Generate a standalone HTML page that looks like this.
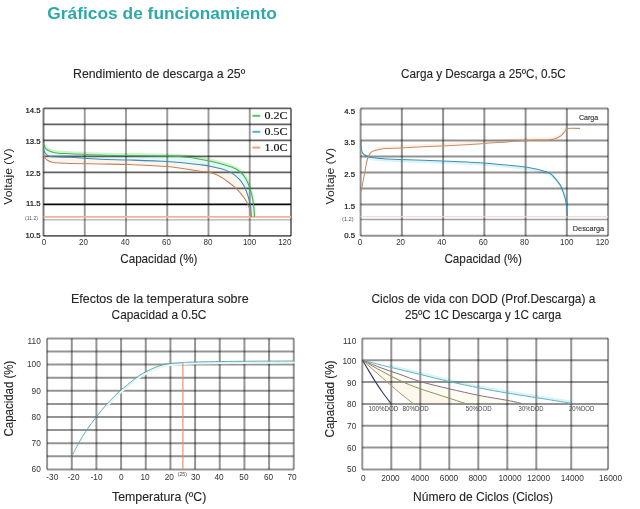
<!DOCTYPE html>
<html><head><meta charset="utf-8"><title>Gráficos de funcionamiento</title>
<style>
html,body{margin:0;padding:0;background:#fff;}
body{width:640px;height:509px;overflow:hidden;}
svg{display:block;}
</style></head><body>
<svg width="640" height="509" viewBox="0 0 640 509"><text x="47.30" y="18.60" font-size="16.00" fill="#2ea9ab" font-family='"Liberation Sans", Arial, sans-serif' textLength="229.50" lengthAdjust="spacingAndGlyphs" font-weight="bold">Gráficos de funcionamiento</text>
<g id="c1curvesbg">
<path d="M43.60,143.50 C43.83,144.17 44.43,146.45 45.00,147.50 C45.57,148.55 45.83,149.05 47.00,149.80 C48.17,150.55 50.17,151.43 52.00,152.00 C53.83,152.57 55.00,152.90 58.00,153.20 C61.00,153.50 63.00,153.50 70.00,153.80 C77.00,154.10 90.00,154.70 100.00,155.00 C110.00,155.30 118.75,155.42 130.00,155.60 C141.25,155.78 157.50,155.77 167.50,156.10 C177.50,156.43 184.58,157.08 190.00,157.60 C195.42,158.12 196.37,158.53 200.00,159.20 C203.63,159.87 207.48,160.58 211.80,161.60 C216.12,162.62 221.97,164.10 225.90,165.30 C229.83,166.50 232.83,167.52 235.40,168.80 C237.97,170.08 239.53,171.32 241.30,173.00 C243.07,174.68 244.63,176.55 246.00,178.90 C247.37,181.25 248.52,184.35 249.50,187.10 C250.48,189.85 251.22,192.45 251.90,195.40 C252.58,198.35 253.17,201.28 253.60,204.80 C254.03,208.32 254.35,214.55 254.50,216.50 L251.30,216.50 C251.20,214.95 251.00,209.73 250.70,207.20 C250.40,204.67 250.08,203.57 249.50,201.30 C248.92,199.03 248.18,196.27 247.20,193.60 C246.22,190.93 244.98,187.75 243.60,185.30 C242.22,182.85 241.07,181.05 238.90,178.90 C236.73,176.75 233.55,174.08 230.60,172.40 C227.65,170.72 224.83,169.88 221.20,168.80 C217.57,167.72 212.33,166.58 208.80,165.90 C205.27,165.22 206.88,165.42 200.00,164.70 C193.12,163.98 179.17,162.38 167.50,161.60 C155.83,160.82 141.25,160.38 130.00,160.00 C118.75,159.62 110.00,159.75 100.00,159.30 C90.00,158.85 77.50,157.72 70.00,157.30 C62.50,156.88 58.58,157.02 55.00,156.80 C51.42,156.58 50.17,156.67 48.50,156.00 C46.83,155.33 45.82,153.88 45.00,152.80 C44.18,151.72 43.83,150.05 43.60,149.50 Z" fill="#e4f8fa" stroke="none"/>
<path d="M43.60,149.50 C43.83,150.05 44.18,151.72 45.00,152.80 C45.82,153.88 46.83,155.33 48.50,156.00 C50.17,156.67 51.42,156.58 55.00,156.80 C58.58,157.02 62.50,156.88 70.00,157.30 C77.50,157.72 90.00,158.85 100.00,159.30 C110.00,159.75 118.75,159.62 130.00,160.00 C141.25,160.38 155.83,160.82 167.50,161.60 C179.17,162.38 193.12,163.98 200.00,164.70 C206.88,165.42 205.27,165.22 208.80,165.90 C212.33,166.58 217.57,167.72 221.20,168.80 C224.83,169.88 227.65,170.72 230.60,172.40 C233.55,174.08 236.73,176.75 238.90,178.90 C241.07,181.05 242.22,182.85 243.60,185.30 C244.98,187.75 246.22,190.93 247.20,193.60 C248.18,196.27 248.92,199.03 249.50,201.30 C250.08,203.57 250.40,204.67 250.70,207.20 C251.00,209.73 251.20,214.95 251.30,216.50 L250.70,216.50 C250.60,215.53 250.50,212.55 250.10,210.70 C249.70,208.85 248.98,207.07 248.30,205.40 C247.62,203.73 247.17,202.57 246.00,200.70 C244.83,198.83 243.07,196.37 241.30,194.20 C239.53,192.03 237.77,189.87 235.40,187.70 C233.03,185.53 230.05,183.27 227.10,181.20 C224.15,179.13 220.75,176.78 217.70,175.30 C214.65,173.82 211.75,172.98 208.80,172.30 C205.85,171.62 206.88,172.15 200.00,171.20 C193.12,170.25 179.17,167.70 167.50,166.60 C155.83,165.50 141.25,165.03 130.00,164.60 C118.75,164.17 110.00,164.20 100.00,164.00 C90.00,163.80 76.67,163.55 70.00,163.40 C63.33,163.25 63.00,163.30 60.00,163.10 C57.00,162.90 54.17,162.72 52.00,162.20 C49.83,161.68 48.17,160.73 47.00,160.00 C45.83,159.27 45.57,158.63 45.00,157.80 C44.43,156.97 43.83,155.47 43.60,155.00 Z" fill="#fef5ee" stroke="none"/>
<path d="M43.60,142.00 C43.83,142.67 44.43,144.95 45.00,146.00 C45.57,147.05 45.83,147.55 47.00,148.30 C48.17,149.05 50.17,149.93 52.00,150.50 C53.83,151.07 55.00,151.40 58.00,151.70 C61.00,152.00 63.00,152.00 70.00,152.30 C77.00,152.60 90.00,153.20 100.00,153.50 C110.00,153.80 118.75,153.92 130.00,154.10 C141.25,154.28 157.50,154.27 167.50,154.60 C177.50,154.93 184.58,155.58 190.00,156.10 C195.42,156.62 196.37,157.03 200.00,157.70 C203.63,158.37 207.48,159.08 211.80,160.10 C216.12,161.12 221.97,162.60 225.90,163.80 C229.83,165.00 232.83,166.02 235.40,167.30 C237.97,168.58 239.53,169.82 241.30,171.50 C243.07,173.18 244.63,175.05 246.00,177.40 C247.37,179.75 248.52,182.85 249.50,185.60 C250.48,188.35 251.22,190.95 251.90,193.90 C252.58,196.85 253.17,199.78 253.60,203.30 C254.03,206.82 254.35,213.05 254.50,215.00" stroke="#cdf2cd" stroke-width="2.20" fill="none" stroke-linejoin="round" stroke-linecap="round" />
</g>
<g id="c1grid">
<line x1="43.50" y1="108.40" x2="291.00" y2="108.40" stroke="#000" stroke-width="1.80" stroke-opacity="0.62"/>
<line x1="43.50" y1="124.45" x2="291.00" y2="124.45" stroke="#000" stroke-width="1.80" stroke-opacity="0.62"/>
<line x1="43.50" y1="140.45" x2="291.00" y2="140.45" stroke="#000" stroke-width="1.80" stroke-opacity="0.62"/>
<line x1="43.50" y1="156.40" x2="291.00" y2="156.40" stroke="#000" stroke-width="1.80" stroke-opacity="0.62"/>
<line x1="43.50" y1="172.40" x2="291.00" y2="172.40" stroke="#000" stroke-width="1.80" stroke-opacity="0.62"/>
<line x1="43.50" y1="188.40" x2="291.00" y2="188.40" stroke="#000" stroke-width="1.80" stroke-opacity="0.62"/>
<line x1="43.50" y1="204.40" x2="291.00" y2="204.40" stroke="#080808" stroke-width="1.70"/>
<line x1="43.50" y1="219.90" x2="291.00" y2="219.90" stroke="#b0b0b0" stroke-width="1.40"/>
<line x1="43.50" y1="235.80" x2="291.00" y2="235.80" stroke="#000" stroke-width="1.80" stroke-opacity="0.62"/>
<line x1="43.50" y1="108.40" x2="43.50" y2="236.00" stroke="#000" stroke-width="1.90" stroke-opacity="0.55"/>
<line x1="84.75" y1="108.40" x2="84.75" y2="236.00" stroke="#000" stroke-width="1.90" stroke-opacity="0.40"/>
<line x1="126.00" y1="108.40" x2="126.00" y2="236.00" stroke="#000" stroke-width="1.90" stroke-opacity="0.40"/>
<line x1="167.25" y1="108.40" x2="167.25" y2="236.00" stroke="#000" stroke-width="1.90" stroke-opacity="0.40"/>
<line x1="208.50" y1="108.40" x2="208.50" y2="236.00" stroke="#000" stroke-width="1.90" stroke-opacity="0.40"/>
<line x1="249.75" y1="108.40" x2="249.75" y2="236.00" stroke="#000" stroke-width="1.90" stroke-opacity="0.40"/>
<line x1="291.00" y1="108.40" x2="291.00" y2="236.00" stroke="#000" stroke-width="1.90" stroke-opacity="0.55"/>
</g>
<line x1="43.50" y1="216.90" x2="291.00" y2="216.90" stroke="#eeb49c" stroke-width="1.60"/>
<path d="M43.60,143.50 C43.83,144.17 44.43,146.45 45.00,147.50 C45.57,148.55 45.83,149.05 47.00,149.80 C48.17,150.55 50.17,151.43 52.00,152.00 C53.83,152.57 55.00,152.90 58.00,153.20 C61.00,153.50 63.00,153.50 70.00,153.80 C77.00,154.10 90.00,154.70 100.00,155.00 C110.00,155.30 118.75,155.42 130.00,155.60 C141.25,155.78 157.50,155.77 167.50,156.10 C177.50,156.43 184.58,157.08 190.00,157.60 C195.42,158.12 196.37,158.53 200.00,159.20 C203.63,159.87 207.48,160.58 211.80,161.60 C216.12,162.62 221.97,164.10 225.90,165.30 C229.83,166.50 232.83,167.52 235.40,168.80 C237.97,170.08 239.53,171.32 241.30,173.00 C243.07,174.68 244.63,176.55 246.00,178.90 C247.37,181.25 248.52,184.35 249.50,187.10 C250.48,189.85 251.22,192.45 251.90,195.40 C252.58,198.35 253.17,201.28 253.60,204.80 C254.03,208.32 254.35,214.55 254.50,216.50" stroke="#45b34f" stroke-width="1.05" fill="none" stroke-linejoin="round" stroke-linecap="round" />
<path d="M43.60,149.50 C43.83,150.05 44.18,151.72 45.00,152.80 C45.82,153.88 46.83,155.33 48.50,156.00 C50.17,156.67 51.42,156.58 55.00,156.80 C58.58,157.02 62.50,156.88 70.00,157.30 C77.50,157.72 90.00,158.85 100.00,159.30 C110.00,159.75 118.75,159.62 130.00,160.00 C141.25,160.38 155.83,160.82 167.50,161.60 C179.17,162.38 193.12,163.98 200.00,164.70 C206.88,165.42 205.27,165.22 208.80,165.90 C212.33,166.58 217.57,167.72 221.20,168.80 C224.83,169.88 227.65,170.72 230.60,172.40 C233.55,174.08 236.73,176.75 238.90,178.90 C241.07,181.05 242.22,182.85 243.60,185.30 C244.98,187.75 246.22,190.93 247.20,193.60 C248.18,196.27 248.92,199.03 249.50,201.30 C250.08,203.57 250.40,204.67 250.70,207.20 C251.00,209.73 251.20,214.95 251.30,216.50" stroke="#3a8cb0" stroke-width="1.05" fill="none" stroke-linejoin="round" stroke-linecap="round" />
<path d="M43.60,155.00 C43.83,155.47 44.43,156.97 45.00,157.80 C45.57,158.63 45.83,159.27 47.00,160.00 C48.17,160.73 49.83,161.68 52.00,162.20 C54.17,162.72 57.00,162.90 60.00,163.10 C63.00,163.30 63.33,163.25 70.00,163.40 C76.67,163.55 90.00,163.80 100.00,164.00 C110.00,164.20 118.75,164.17 130.00,164.60 C141.25,165.03 155.83,165.50 167.50,166.60 C179.17,167.70 193.12,170.25 200.00,171.20 C206.88,172.15 205.85,171.62 208.80,172.30 C211.75,172.98 214.65,173.82 217.70,175.30 C220.75,176.78 224.15,179.13 227.10,181.20 C230.05,183.27 233.03,185.53 235.40,187.70 C237.77,189.87 239.53,192.03 241.30,194.20 C243.07,196.37 244.83,198.83 246.00,200.70 C247.17,202.57 247.62,203.73 248.30,205.40 C248.98,207.07 249.70,208.85 250.10,210.70 C250.50,212.55 250.60,215.53 250.70,216.50" stroke="#c0825c" stroke-width="1.05" fill="none" stroke-linejoin="round" stroke-linecap="round" />
<line x1="252.40" y1="115.80" x2="260.30" y2="115.80" stroke="#57c860" stroke-width="2.00"/>
<line x1="252.40" y1="131.80" x2="260.30" y2="131.80" stroke="#52b6d0" stroke-width="2.00"/>
<line x1="252.40" y1="147.60" x2="260.30" y2="147.60" stroke="#f0a078" stroke-width="2.00"/>
<text x="264.60" y="119.20" font-size="9.50" fill="#111" font-family='"Liberation Serif", "Times New Roman", serif' stroke="#111" stroke-width="0.12" textLength="23.00" lengthAdjust="spacingAndGlyphs">0.2C</text>
<text x="264.60" y="135.20" font-size="9.50" fill="#111" font-family='"Liberation Serif", "Times New Roman", serif' stroke="#111" stroke-width="0.12" textLength="23.00" lengthAdjust="spacingAndGlyphs">0.5C</text>
<text x="264.60" y="151.10" font-size="9.50" fill="#111" font-family='"Liberation Serif", "Times New Roman", serif' stroke="#111" stroke-width="0.12" textLength="23.00" lengthAdjust="spacingAndGlyphs">1.0C</text>
<text x="40.60" y="113.30" font-size="7.80" fill="#111" font-family='"Liberation Sans", Arial, sans-serif' stroke="#111" stroke-width="0.20" text-anchor="end">14.5</text>
<text x="40.60" y="143.90" font-size="7.80" fill="#111" font-family='"Liberation Sans", Arial, sans-serif' stroke="#111" stroke-width="0.20" text-anchor="end">13.5</text>
<text x="40.60" y="175.70" font-size="7.80" fill="#111" font-family='"Liberation Sans", Arial, sans-serif' stroke="#111" stroke-width="0.20" text-anchor="end">12.5</text>
<text x="40.60" y="206.10" font-size="7.80" fill="#111" font-family='"Liberation Sans", Arial, sans-serif' stroke="#111" stroke-width="0.20" text-anchor="end">11.5</text>
<text x="40.60" y="237.70" font-size="7.80" fill="#111" font-family='"Liberation Sans", Arial, sans-serif' stroke="#111" stroke-width="0.20" text-anchor="end">10.5</text>
<text x="25.00" y="220.40" font-size="5.80" fill="#555" font-family='"Liberation Sans", Arial, sans-serif' textLength="12.90" lengthAdjust="spacingAndGlyphs">(11.2)</text>
<text x="43.90" y="245.00" font-size="8.60" fill="#333" font-family='"Liberation Sans", Arial, sans-serif' textLength="4.45" lengthAdjust="spacingAndGlyphs" text-anchor="middle">0</text>
<text x="83.40" y="245.00" font-size="8.60" fill="#333" font-family='"Liberation Sans", Arial, sans-serif' textLength="8.90" lengthAdjust="spacingAndGlyphs" text-anchor="middle">20</text>
<text x="125.20" y="245.00" font-size="8.60" fill="#333" font-family='"Liberation Sans", Arial, sans-serif' textLength="8.90" lengthAdjust="spacingAndGlyphs" text-anchor="middle">40</text>
<text x="166.50" y="245.00" font-size="8.60" fill="#333" font-family='"Liberation Sans", Arial, sans-serif' textLength="8.90" lengthAdjust="spacingAndGlyphs" text-anchor="middle">60</text>
<text x="208.00" y="245.00" font-size="8.60" fill="#333" font-family='"Liberation Sans", Arial, sans-serif' textLength="8.90" lengthAdjust="spacingAndGlyphs" text-anchor="middle">80</text>
<text x="249.60" y="245.00" font-size="8.60" fill="#333" font-family='"Liberation Sans", Arial, sans-serif' textLength="13.35" lengthAdjust="spacingAndGlyphs" text-anchor="middle">100</text>
<text x="284.80" y="245.00" font-size="8.60" fill="#333" font-family='"Liberation Sans", Arial, sans-serif' textLength="13.35" lengthAdjust="spacingAndGlyphs" text-anchor="middle">120</text>
<text x="120.20" y="263.30" font-size="12.80" fill="#262626" font-family='"Liberation Sans", Arial, sans-serif' stroke="#262626" stroke-width="0.12" textLength="77.30" lengthAdjust="spacingAndGlyphs">Capacidad (%)</text>
<text x="0" y="0" transform="translate(12.40,204.80) rotate(-90)" font-size="11.40" fill="#222" font-family='"Liberation Sans", Arial, sans-serif' textLength="56.50" lengthAdjust="spacingAndGlyphs">Voltaje (V)</text>
<text x="73.00" y="78.00" font-size="12.80" fill="#262626" font-family='"Liberation Sans", Arial, sans-serif' stroke="#262626" stroke-width="0.12" textLength="172.20" lengthAdjust="spacingAndGlyphs">Rendimiento de descarga a 25º</text>
<g id="c2bg">
<path d="M365.10,156.30 C365.72,156.60 367.52,157.62 368.80,158.10 C370.08,158.58 370.80,158.88 372.80,159.20 C374.80,159.52 378.47,159.78 380.80,160.00 C383.13,160.22 383.47,160.30 386.80,160.50 C390.13,160.70 391.30,160.87 400.80,161.20 C410.30,161.53 432.13,162.07 443.80,162.50 C455.47,162.93 462.97,163.37 470.80,163.80 C478.63,164.23 485.80,164.72 490.80,165.10 C495.80,165.48 494.80,165.52 500.80,166.10 C506.80,166.68 519.02,167.35 526.80,168.60 C534.58,169.85 543.00,172.10 547.50,173.60 C552.00,175.10 551.92,175.95 553.80,177.60 C555.68,179.25 557.47,181.75 558.80,183.50 C560.13,185.25 560.93,186.38 561.80,188.10 C562.67,189.82 563.28,191.72 564.00,193.80 C564.72,195.88 565.52,198.20 566.10,200.60 C566.68,203.00 567.27,206.93 567.50,208.20" stroke="#d8f4f8" stroke-width="2.40" fill="none" stroke-linejoin="round" stroke-linecap="round" />
<path d="M376.00,148.70 C376.67,148.55 378.33,148.07 380.00,147.80 C381.67,147.53 382.67,147.33 386.00,147.10 C389.33,146.87 390.50,146.85 400.00,146.40 C409.50,145.95 431.33,144.98 443.00,144.40 C454.67,143.82 463.07,143.30 470.00,142.90 C476.93,142.50 475.32,142.63 484.60,142.00 C493.88,141.37 514.80,139.73 525.70,139.10 C536.60,138.47 545.12,138.52 550.00,138.20 C554.88,137.88 553.50,137.65 555.00,137.20 C556.50,136.75 557.83,136.15 559.00,135.50 C560.17,134.85 561.08,134.17 562.00,133.30 C562.92,132.43 563.80,131.22 564.50,130.30 C565.20,129.38 565.92,128.22 566.20,127.80" stroke="#fdf0e4" stroke-width="2.40" fill="none" stroke-linejoin="round" stroke-linecap="round" />
</g>
<line x1="360.60" y1="108.40" x2="608.10" y2="108.40" stroke="#000" stroke-width="2.00" stroke-opacity="0.43"/>
<line x1="360.60" y1="124.45" x2="608.10" y2="124.45" stroke="#000" stroke-width="2.00" stroke-opacity="0.43"/>
<line x1="360.60" y1="140.45" x2="608.10" y2="140.45" stroke="#000" stroke-width="2.00" stroke-opacity="0.43"/>
<line x1="360.60" y1="156.40" x2="608.10" y2="156.40" stroke="#000" stroke-width="2.00" stroke-opacity="0.43"/>
<line x1="360.60" y1="172.40" x2="608.10" y2="172.40" stroke="#000" stroke-width="2.00" stroke-opacity="0.43"/>
<line x1="360.60" y1="188.40" x2="608.10" y2="188.40" stroke="#000" stroke-width="2.00" stroke-opacity="0.43"/>
<line x1="360.60" y1="204.40" x2="608.10" y2="204.40" stroke="#000" stroke-width="2.00" stroke-opacity="0.43"/>
<line x1="360.60" y1="219.50" x2="608.10" y2="219.50" stroke="#a0a0a0" stroke-width="1.50"/>
<line x1="360.60" y1="235.80" x2="608.10" y2="235.80" stroke="#000" stroke-width="2.00" stroke-opacity="0.43"/>
<line x1="360.60" y1="108.40" x2="360.60" y2="236.00" stroke="#000" stroke-width="2.00" stroke-opacity="0.43"/>
<line x1="401.85" y1="108.40" x2="401.85" y2="236.00" stroke="#000" stroke-width="2.00" stroke-opacity="0.43"/>
<line x1="443.10" y1="108.40" x2="443.10" y2="236.00" stroke="#000" stroke-width="2.00" stroke-opacity="0.43"/>
<line x1="484.35" y1="108.40" x2="484.35" y2="236.00" stroke="#000" stroke-width="2.00" stroke-opacity="0.43"/>
<line x1="525.60" y1="108.40" x2="525.60" y2="236.00" stroke="#000" stroke-width="2.00" stroke-opacity="0.43"/>
<line x1="566.85" y1="108.40" x2="566.85" y2="236.00" stroke="#000" stroke-width="2.00" stroke-opacity="0.43"/>
<line x1="608.10" y1="108.40" x2="608.10" y2="236.00" stroke="#000" stroke-width="2.00" stroke-opacity="0.43"/>
<line x1="360.60" y1="216.70" x2="608.10" y2="216.70" stroke="#f3d3d0" stroke-width="1.00"/>
<path d="M360.90,141.50 C360.97,142.58 361.08,146.20 361.30,148.00 C361.52,149.80 361.70,151.18 362.20,152.30 C362.70,153.42 363.33,154.00 364.30,154.70 C365.27,155.40 366.72,156.02 368.00,156.50 C369.28,156.98 370.00,157.28 372.00,157.60 C374.00,157.92 377.67,158.18 380.00,158.40 C382.33,158.62 382.67,158.70 386.00,158.90 C389.33,159.10 390.50,159.27 400.00,159.60 C409.50,159.93 431.33,160.47 443.00,160.90 C454.67,161.33 462.17,161.77 470.00,162.20 C477.83,162.63 485.00,163.12 490.00,163.50 C495.00,163.88 494.00,163.92 500.00,164.50 C506.00,165.08 518.22,165.75 526.00,167.00 C533.78,168.25 542.20,170.50 546.70,172.00 C551.20,173.50 551.12,174.35 553.00,176.00 C554.88,177.65 556.67,180.15 558.00,181.90 C559.33,183.65 560.13,184.78 561.00,186.50 C561.87,188.22 562.48,190.12 563.20,192.20 C563.92,194.28 564.72,196.60 565.30,199.00 C565.88,201.40 566.35,203.72 566.70,206.60 C567.05,209.48 567.28,214.68 567.40,216.30" stroke="#3a90b4" stroke-width="1.05" fill="none" stroke-linejoin="round" stroke-linecap="round" />
<path d="M360.70,191.50 C360.87,190.97 361.28,190.13 361.70,188.30 C362.12,186.47 362.68,183.17 363.20,180.50 C363.72,177.83 364.28,175.05 364.80,172.30 C365.32,169.55 365.85,166.22 366.30,164.00 C366.75,161.78 367.12,160.30 367.50,159.00 C367.88,157.70 368.18,157.10 368.60,156.20 C369.02,155.30 369.43,154.37 370.00,153.60 C370.57,152.83 371.00,152.17 372.00,151.60 C373.00,151.03 374.67,150.58 376.00,150.20 C377.33,149.82 378.33,149.57 380.00,149.30 C381.67,149.03 382.67,148.83 386.00,148.60 C389.33,148.37 390.50,148.35 400.00,147.90 C409.50,147.45 431.33,146.48 443.00,145.90 C454.67,145.32 463.07,144.80 470.00,144.40 C476.93,144.00 475.32,144.13 484.60,143.50 C493.88,142.87 514.80,141.23 525.70,140.60 C536.60,139.97 545.12,140.02 550.00,139.70 C554.88,139.38 553.50,139.15 555.00,138.70 C556.50,138.25 557.83,137.65 559.00,137.00 C560.17,136.35 561.08,135.67 562.00,134.80 C562.92,133.93 563.80,132.72 564.50,131.80 C565.20,130.88 565.70,129.87 566.20,129.30 C566.70,128.73 565.28,128.55 567.50,128.40 C569.72,128.25 577.50,128.40 579.50,128.40" stroke="#c58c66" stroke-width="1.05" fill="none" stroke-linejoin="round" stroke-linecap="round" />
<text x="355.00" y="114.20" font-size="7.80" fill="#111" font-family='"Liberation Sans", Arial, sans-serif' stroke="#111" stroke-width="0.20" text-anchor="end">4.5</text>
<text x="355.00" y="144.50" font-size="7.80" fill="#111" font-family='"Liberation Sans", Arial, sans-serif' stroke="#111" stroke-width="0.20" text-anchor="end">3.5</text>
<text x="355.00" y="176.95" font-size="7.80" fill="#111" font-family='"Liberation Sans", Arial, sans-serif' stroke="#111" stroke-width="0.20" text-anchor="end">2.5</text>
<text x="355.00" y="209.20" font-size="7.80" fill="#111" font-family='"Liberation Sans", Arial, sans-serif' stroke="#111" stroke-width="0.20" text-anchor="end">1.5</text>
<text x="355.00" y="237.90" font-size="7.80" fill="#111" font-family='"Liberation Sans", Arial, sans-serif' stroke="#111" stroke-width="0.20" text-anchor="end">0.5</text>
<text x="342.10" y="220.60" font-size="5.80" fill="#555" font-family='"Liberation Sans", Arial, sans-serif' textLength="11.50" lengthAdjust="spacingAndGlyphs">(1.2)</text>
<text x="359.90" y="245.00" font-size="8.60" fill="#333" font-family='"Liberation Sans", Arial, sans-serif' textLength="4.45" lengthAdjust="spacingAndGlyphs" text-anchor="middle">0</text>
<text x="400.60" y="245.00" font-size="8.60" fill="#333" font-family='"Liberation Sans", Arial, sans-serif' textLength="8.90" lengthAdjust="spacingAndGlyphs" text-anchor="middle">20</text>
<text x="441.80" y="245.00" font-size="8.60" fill="#333" font-family='"Liberation Sans", Arial, sans-serif' textLength="8.90" lengthAdjust="spacingAndGlyphs" text-anchor="middle">40</text>
<text x="483.20" y="245.00" font-size="8.60" fill="#333" font-family='"Liberation Sans", Arial, sans-serif' textLength="8.90" lengthAdjust="spacingAndGlyphs" text-anchor="middle">60</text>
<text x="524.50" y="245.00" font-size="8.60" fill="#333" font-family='"Liberation Sans", Arial, sans-serif' textLength="8.90" lengthAdjust="spacingAndGlyphs" text-anchor="middle">80</text>
<text x="566.75" y="245.00" font-size="8.60" fill="#333" font-family='"Liberation Sans", Arial, sans-serif' textLength="13.35" lengthAdjust="spacingAndGlyphs" text-anchor="middle">100</text>
<text x="602.30" y="245.00" font-size="8.60" fill="#333" font-family='"Liberation Sans", Arial, sans-serif' textLength="13.35" lengthAdjust="spacingAndGlyphs" text-anchor="middle">120</text>
<text x="444.40" y="263.30" font-size="12.80" fill="#262626" font-family='"Liberation Sans", Arial, sans-serif' stroke="#262626" stroke-width="0.12" textLength="77.50" lengthAdjust="spacingAndGlyphs">Capacidad (%)</text>
<text x="0" y="0" transform="translate(333.60,204.50) rotate(-90)" font-size="11.40" fill="#222" font-family='"Liberation Sans", Arial, sans-serif' textLength="56.60" lengthAdjust="spacingAndGlyphs">Voltaje (V)</text>
<text x="401.00" y="77.80" font-size="12.80" fill="#262626" font-family='"Liberation Sans", Arial, sans-serif' stroke="#262626" stroke-width="0.12" textLength="164.80" lengthAdjust="spacingAndGlyphs">Carga y Descarga a 25ºC, 0.5C</text>
<text x="578.90" y="119.90" font-size="7.80" fill="#333" font-family='"Liberation Sans", Arial, sans-serif' stroke="#333" stroke-width="0.15" textLength="19.30" lengthAdjust="spacingAndGlyphs">Carga</text>
<text x="572.80" y="230.70" font-size="7.80" fill="#333" font-family='"Liberation Sans", Arial, sans-serif' stroke="#333" stroke-width="0.15" textLength="31.30" lengthAdjust="spacingAndGlyphs">Descarga</text>
<line x1="47.10" y1="338.40" x2="293.75" y2="338.40" stroke="#000" stroke-width="2.00" stroke-opacity="0.42"/>
<line x1="47.10" y1="351.50" x2="293.75" y2="351.50" stroke="#000" stroke-width="2.00" stroke-opacity="0.42"/>
<line x1="47.10" y1="364.60" x2="293.75" y2="364.60" stroke="#000" stroke-width="2.00" stroke-opacity="0.42"/>
<line x1="47.10" y1="377.70" x2="293.75" y2="377.70" stroke="#000" stroke-width="2.00" stroke-opacity="0.42"/>
<line x1="47.10" y1="390.80" x2="293.75" y2="390.80" stroke="#000" stroke-width="2.00" stroke-opacity="0.42"/>
<line x1="47.10" y1="403.90" x2="293.75" y2="403.90" stroke="#000" stroke-width="2.00" stroke-opacity="0.42"/>
<line x1="47.10" y1="417.00" x2="293.75" y2="417.00" stroke="#000" stroke-width="2.00" stroke-opacity="0.42"/>
<line x1="47.10" y1="430.10" x2="293.75" y2="430.10" stroke="#000" stroke-width="2.00" stroke-opacity="0.42"/>
<line x1="47.10" y1="443.20" x2="293.75" y2="443.20" stroke="#000" stroke-width="2.00" stroke-opacity="0.42"/>
<line x1="47.10" y1="456.30" x2="293.75" y2="456.30" stroke="#000" stroke-width="2.00" stroke-opacity="0.42"/>
<line x1="47.10" y1="469.40" x2="293.75" y2="469.40" stroke="#000" stroke-width="2.00" stroke-opacity="0.42"/>
<line x1="47.10" y1="338.40" x2="47.10" y2="469.40" stroke="#000" stroke-width="2.00" stroke-opacity="0.42"/>
<line x1="71.77" y1="338.40" x2="71.77" y2="469.40" stroke="#000" stroke-width="2.00" stroke-opacity="0.42"/>
<line x1="96.43" y1="338.40" x2="96.43" y2="469.40" stroke="#000" stroke-width="2.00" stroke-opacity="0.42"/>
<line x1="121.09" y1="338.40" x2="121.09" y2="469.40" stroke="#000" stroke-width="2.00" stroke-opacity="0.42"/>
<line x1="145.76" y1="338.40" x2="145.76" y2="469.40" stroke="#000" stroke-width="2.00" stroke-opacity="0.42"/>
<line x1="170.42" y1="338.40" x2="170.42" y2="469.40" stroke="#000" stroke-width="2.00" stroke-opacity="0.42"/>
<line x1="195.09" y1="338.40" x2="195.09" y2="469.40" stroke="#000" stroke-width="2.00" stroke-opacity="0.42"/>
<line x1="219.75" y1="338.40" x2="219.75" y2="469.40" stroke="#000" stroke-width="2.00" stroke-opacity="0.42"/>
<line x1="244.42" y1="338.40" x2="244.42" y2="469.40" stroke="#000" stroke-width="2.00" stroke-opacity="0.42"/>
<line x1="269.08" y1="338.40" x2="269.08" y2="469.40" stroke="#000" stroke-width="2.00" stroke-opacity="0.42"/>
<line x1="293.75" y1="338.40" x2="293.75" y2="469.40" stroke="#000" stroke-width="2.00" stroke-opacity="0.42"/>
<path d="M107.80,405.20 C110.03,402.97 118.25,394.58 121.20,391.80 C124.15,389.02 122.92,390.60 125.50,388.50 C128.08,386.40 133.27,381.70 136.70,379.20 C140.13,376.70 142.97,375.18 146.10,373.50 C149.23,371.82 152.60,370.30 155.50,369.10 C158.40,367.90 160.92,366.98 163.50,366.30 C166.08,365.62 167.83,365.35 171.00,365.00 C174.17,364.65 178.35,364.43 182.50,364.20 C186.65,363.97 186.23,363.82 195.90,363.60 C205.57,363.38 224.15,363.07 240.50,362.90 C256.85,362.73 285.08,362.65 294.00,362.60" stroke="#e4f5f6" stroke-width="2.00" fill="none" stroke-linejoin="round" stroke-linecap="round" />
<path d="M71.80,456.40 C72.96,454.15 76.23,447.34 78.75,442.90 C81.27,438.46 83.98,434.08 86.90,429.75 C89.83,425.42 92.90,421.26 96.30,416.90 C99.70,412.54 103.23,408.05 107.30,403.60 C111.37,399.15 117.75,392.98 120.70,390.20 C123.65,387.42 122.42,389.00 125.00,386.90 C127.58,384.80 132.77,380.10 136.20,377.60 C139.63,375.10 142.47,373.58 145.60,371.90 C148.73,370.22 152.10,368.70 155.00,367.50 C157.90,366.30 160.42,365.38 163.00,364.70 C165.58,364.02 167.33,363.75 170.50,363.40 C173.67,363.05 177.85,362.83 182.00,362.60 C186.15,362.37 185.73,362.22 195.40,362.00 C205.07,361.78 223.65,361.47 240.00,361.30 C256.35,361.13 284.58,361.05 293.50,361.00" stroke="#55a7b2" stroke-width="0.95" fill="none" stroke-linejoin="round" stroke-linecap="round" />
<line x1="182.90" y1="363.20" x2="182.90" y2="469.40" stroke="#e3876a" stroke-width="1.10"/>
<text x="40.80" y="343.95" font-size="8.80" fill="#333" font-family='"Liberation Sans", Arial, sans-serif' textLength="13.23" lengthAdjust="spacingAndGlyphs" text-anchor="end">110</text>
<text x="40.80" y="367.40" font-size="8.80" fill="#333" font-family='"Liberation Sans", Arial, sans-serif' textLength="13.85" lengthAdjust="spacingAndGlyphs" text-anchor="end">100</text>
<text x="40.80" y="393.70" font-size="8.80" fill="#333" font-family='"Liberation Sans", Arial, sans-serif' textLength="9.23" lengthAdjust="spacingAndGlyphs" text-anchor="end">90</text>
<text x="40.80" y="419.80" font-size="8.80" fill="#333" font-family='"Liberation Sans", Arial, sans-serif' textLength="9.23" lengthAdjust="spacingAndGlyphs" text-anchor="end">80</text>
<text x="40.80" y="446.00" font-size="8.80" fill="#333" font-family='"Liberation Sans", Arial, sans-serif' textLength="9.23" lengthAdjust="spacingAndGlyphs" text-anchor="end">70</text>
<text x="40.80" y="471.60" font-size="8.80" fill="#333" font-family='"Liberation Sans", Arial, sans-serif' textLength="9.23" lengthAdjust="spacingAndGlyphs" text-anchor="end">60</text>
<text x="52.30" y="480.20" font-size="8.80" fill="#333" font-family='"Liberation Sans", Arial, sans-serif' textLength="11.99" lengthAdjust="spacingAndGlyphs" text-anchor="middle">-30</text>
<text x="73.60" y="480.20" font-size="8.80" fill="#333" font-family='"Liberation Sans", Arial, sans-serif' textLength="11.99" lengthAdjust="spacingAndGlyphs" text-anchor="middle">-20</text>
<text x="96.60" y="480.20" font-size="8.80" fill="#333" font-family='"Liberation Sans", Arial, sans-serif' textLength="11.99" lengthAdjust="spacingAndGlyphs" text-anchor="middle">-10</text>
<text x="121.25" y="480.20" font-size="8.80" fill="#333" font-family='"Liberation Sans", Arial, sans-serif' textLength="4.62" lengthAdjust="spacingAndGlyphs" text-anchor="middle">0</text>
<text x="145.00" y="480.20" font-size="8.80" fill="#333" font-family='"Liberation Sans", Arial, sans-serif' textLength="9.23" lengthAdjust="spacingAndGlyphs" text-anchor="middle">10</text>
<text x="169.25" y="480.20" font-size="8.80" fill="#333" font-family='"Liberation Sans", Arial, sans-serif' textLength="9.23" lengthAdjust="spacingAndGlyphs" text-anchor="middle">20</text>
<text x="195.60" y="480.20" font-size="8.80" fill="#333" font-family='"Liberation Sans", Arial, sans-serif' textLength="9.23" lengthAdjust="spacingAndGlyphs" text-anchor="middle">30</text>
<text x="219.00" y="480.20" font-size="8.80" fill="#333" font-family='"Liberation Sans", Arial, sans-serif' textLength="9.23" lengthAdjust="spacingAndGlyphs" text-anchor="middle">40</text>
<text x="243.90" y="480.20" font-size="8.80" fill="#333" font-family='"Liberation Sans", Arial, sans-serif' textLength="9.23" lengthAdjust="spacingAndGlyphs" text-anchor="middle">50</text>
<text x="268.50" y="480.20" font-size="8.80" fill="#333" font-family='"Liberation Sans", Arial, sans-serif' textLength="9.23" lengthAdjust="spacingAndGlyphs" text-anchor="middle">60</text>
<text x="292.00" y="480.20" font-size="8.80" fill="#333" font-family='"Liberation Sans", Arial, sans-serif' textLength="9.23" lengthAdjust="spacingAndGlyphs" text-anchor="middle">70</text>
<text x="182.30" y="476.00" font-size="5.20" fill="#444" font-family='"Liberation Sans", Arial, sans-serif' text-anchor="middle">(25)</text>
<text x="112.00" y="500.70" font-size="12.80" fill="#262626" font-family='"Liberation Sans", Arial, sans-serif' stroke="#262626" stroke-width="0.12" textLength="94.30" lengthAdjust="spacingAndGlyphs">Temperatura (ºC)</text>
<text x="0" y="0" transform="translate(12.70,436.50) rotate(-90)" font-size="12.80" fill="#262626" font-family='"Liberation Sans", Arial, sans-serif' stroke="#262626" stroke-width="0.12" textLength="75.90" lengthAdjust="spacingAndGlyphs">Capacidad (%)</text>
<text x="70.90" y="303.30" font-size="12.80" fill="#262626" font-family='"Liberation Sans", Arial, sans-serif' stroke="#262626" stroke-width="0.12" textLength="177.80" lengthAdjust="spacingAndGlyphs">Efectos de la temperatura sobre</text>
<text x="111.60" y="319.30" font-size="12.80" fill="#262626" font-family='"Liberation Sans", Arial, sans-serif' stroke="#262626" stroke-width="0.12" textLength="94.80" lengthAdjust="spacingAndGlyphs">Capacidad a 0.5C</text>
<path d="M362.50,360.20 C365.42,361.87 373.75,366.80 380.00,370.20 C386.25,373.60 393.33,377.52 400.00,380.60 C406.67,383.68 411.83,385.78 420.00,388.70 C428.17,391.62 441.50,395.65 449.00,398.10 C456.50,400.55 462.33,402.52 465.00,403.40 L413.10,403.40 C410.92,401.68 405.52,397.70 400.00,393.10 C394.48,388.50 386.25,381.28 380.00,375.80 C373.75,370.32 365.42,362.80 362.50,360.20 Z" fill="#fdf7ec" stroke="none"/>
<path d="M362.50,360.20 C365.42,361.42 373.75,365.13 380.00,367.50 C386.25,369.87 393.33,372.07 400.00,374.40 C406.67,376.73 411.83,379.11 420.00,381.50 C428.17,383.89 439.00,386.40 449.00,388.75 C459.00,391.10 470.35,393.68 480.00,395.60 C489.65,397.53 500.03,399.02 506.90,400.30 C513.77,401.58 518.82,402.80 521.20,403.30 L465.00,403.40 C462.33,402.52 456.50,400.55 449.00,398.10 C441.50,395.65 428.17,391.62 420.00,388.70 C411.83,385.78 406.67,383.68 400.00,380.60 C393.33,377.52 386.25,373.60 380.00,370.20 C373.75,366.80 365.42,361.87 362.50,360.20 Z" fill="#fcfcf0" stroke="none"/>
<path d="M390.00,365.80 C395.00,367.00 410.17,370.62 420.00,373.00 C429.83,375.38 439.00,377.82 449.00,380.10 C459.00,382.38 470.35,384.78 480.00,386.70 C489.65,388.62 497.60,390.02 506.90,391.60 C516.20,393.18 525.12,394.50 535.80,396.20 C546.48,397.90 565.13,400.87 571.00,401.80" stroke="#d9f4f6" stroke-width="2.40" fill="none" stroke-linejoin="round" stroke-linecap="round" />
<line x1="362.30" y1="338.40" x2="608.10" y2="338.40" stroke="#000" stroke-width="2.00" stroke-opacity="0.42"/>
<line x1="362.30" y1="360.23" x2="608.10" y2="360.23" stroke="#000" stroke-width="2.00" stroke-opacity="0.42"/>
<line x1="362.30" y1="382.06" x2="608.10" y2="382.06" stroke="#000" stroke-width="2.00" stroke-opacity="0.42"/>
<line x1="362.30" y1="403.89" x2="608.10" y2="403.89" stroke="#000" stroke-width="2.00" stroke-opacity="0.42"/>
<line x1="362.30" y1="425.72" x2="608.10" y2="425.72" stroke="#000" stroke-width="2.00" stroke-opacity="0.42"/>
<line x1="362.30" y1="447.55" x2="608.10" y2="447.55" stroke="#000" stroke-width="2.00" stroke-opacity="0.42"/>
<line x1="362.30" y1="469.38" x2="608.10" y2="469.38" stroke="#000" stroke-width="2.00" stroke-opacity="0.42"/>
<line x1="362.30" y1="338.40" x2="362.30" y2="469.40" stroke="#000" stroke-width="2.00" stroke-opacity="0.42"/>
<line x1="391.30" y1="338.40" x2="391.30" y2="469.40" stroke="#000" stroke-width="2.00" stroke-opacity="0.42"/>
<line x1="420.30" y1="338.40" x2="420.30" y2="469.40" stroke="#000" stroke-width="2.00" stroke-opacity="0.42"/>
<line x1="449.30" y1="338.40" x2="449.30" y2="469.40" stroke="#000" stroke-width="2.00" stroke-opacity="0.42"/>
<line x1="478.30" y1="338.40" x2="478.30" y2="469.40" stroke="#000" stroke-width="2.00" stroke-opacity="0.42"/>
<line x1="507.30" y1="338.40" x2="507.30" y2="469.40" stroke="#000" stroke-width="2.00" stroke-opacity="0.42"/>
<line x1="536.30" y1="338.40" x2="536.30" y2="469.40" stroke="#000" stroke-width="2.00" stroke-opacity="0.42"/>
<line x1="571.25" y1="338.40" x2="571.25" y2="469.40" stroke="#000" stroke-width="2.00" stroke-opacity="0.42"/>
<line x1="608.10" y1="338.40" x2="608.10" y2="469.40" stroke="#000" stroke-width="2.00" stroke-opacity="0.42"/>
<path d="M362.50,360.20 C367.08,361.37 380.42,364.83 390.00,367.20 C399.58,369.57 410.17,372.02 420.00,374.40 C429.83,376.78 439.00,379.22 449.00,381.50 C459.00,383.78 470.35,386.18 480.00,388.10 C489.65,390.02 497.60,391.42 506.90,393.00 C516.20,394.58 525.12,395.90 535.80,397.60 C546.48,399.30 565.13,402.27 571.00,403.20" stroke="#62b4c0" stroke-width="1.00" fill="none" stroke-linejoin="round" stroke-linecap="round" />
<path d="M362.50,360.20 C365.42,361.42 373.75,365.13 380.00,367.50 C386.25,369.87 393.33,372.07 400.00,374.40 C406.67,376.73 411.83,379.11 420.00,381.50 C428.17,383.89 439.00,386.40 449.00,388.75 C459.00,391.10 470.35,393.68 480.00,395.60 C489.65,397.53 500.03,399.02 506.90,400.30 C513.77,401.58 518.82,402.80 521.20,403.30" stroke="#8c6a86" stroke-width="1.00" fill="none" stroke-linejoin="round" stroke-linecap="round" />
<path d="M362.50,360.20 C365.42,361.87 373.75,366.80 380.00,370.20 C386.25,373.60 393.33,377.52 400.00,380.60 C406.67,383.68 411.83,385.78 420.00,388.70 C428.17,391.62 441.50,395.65 449.00,398.10 C456.50,400.55 462.33,402.52 465.00,403.40" stroke="#8a9064" stroke-width="1.00" fill="none" stroke-linejoin="round" stroke-linecap="round" />
<path d="M362.50,360.20 C365.42,362.80 373.75,370.32 380.00,375.80 C386.25,381.28 394.48,388.50 400.00,393.10 C405.52,397.70 410.92,401.68 413.10,403.40" stroke="#ad9472" stroke-width="1.00" fill="none" stroke-linejoin="round" stroke-linecap="round" />
<path d="M362.50,360.20 C363.55,361.98 366.63,367.28 368.80,370.90 C370.97,374.52 373.13,378.22 375.50,381.90 C377.87,385.58 380.43,389.42 383.00,393.00 C385.57,396.58 389.58,401.67 390.90,403.40" stroke="#2c3a62" stroke-width="1.10" fill="none" stroke-linejoin="round" stroke-linecap="round" />
<text x="368.60" y="411.00" font-size="6.60" fill="#444" font-family='"Liberation Sans", Arial, sans-serif' textLength="29.70" lengthAdjust="spacingAndGlyphs">100%DOD</text>
<text x="402.50" y="411.00" font-size="6.60" fill="#444" font-family='"Liberation Sans", Arial, sans-serif' textLength="26.25" lengthAdjust="spacingAndGlyphs">80%DOD</text>
<text x="465.80" y="411.00" font-size="6.60" fill="#444" font-family='"Liberation Sans", Arial, sans-serif' textLength="25.80" lengthAdjust="spacingAndGlyphs">50%DOD</text>
<text x="518.60" y="411.00" font-size="6.60" fill="#444" font-family='"Liberation Sans", Arial, sans-serif' textLength="25.00" lengthAdjust="spacingAndGlyphs">30%DOD</text>
<text x="569.00" y="411.00" font-size="6.60" fill="#444" font-family='"Liberation Sans", Arial, sans-serif' textLength="25.40" lengthAdjust="spacingAndGlyphs">20%DOD</text>
<text x="356.30" y="344.10" font-size="8.80" fill="#333" font-family='"Liberation Sans", Arial, sans-serif' textLength="13.23" lengthAdjust="spacingAndGlyphs" text-anchor="end">110</text>
<text x="356.30" y="363.80" font-size="8.80" fill="#333" font-family='"Liberation Sans", Arial, sans-serif' textLength="13.85" lengthAdjust="spacingAndGlyphs" text-anchor="end">100</text>
<text x="356.30" y="385.50" font-size="8.80" fill="#333" font-family='"Liberation Sans", Arial, sans-serif' textLength="9.23" lengthAdjust="spacingAndGlyphs" text-anchor="end">90</text>
<text x="356.30" y="407.20" font-size="8.80" fill="#333" font-family='"Liberation Sans", Arial, sans-serif' textLength="9.23" lengthAdjust="spacingAndGlyphs" text-anchor="end">80</text>
<text x="356.30" y="429.10" font-size="8.80" fill="#333" font-family='"Liberation Sans", Arial, sans-serif' textLength="9.23" lengthAdjust="spacingAndGlyphs" text-anchor="end">70</text>
<text x="356.30" y="450.90" font-size="8.80" fill="#333" font-family='"Liberation Sans", Arial, sans-serif' textLength="9.23" lengthAdjust="spacingAndGlyphs" text-anchor="end">60</text>
<text x="356.30" y="472.20" font-size="8.80" fill="#333" font-family='"Liberation Sans", Arial, sans-serif' textLength="9.23" lengthAdjust="spacingAndGlyphs" text-anchor="end">50</text>
<text x="363.40" y="480.50" font-size="8.80" fill="#333" font-family='"Liberation Sans", Arial, sans-serif' textLength="4.62" lengthAdjust="spacingAndGlyphs" text-anchor="middle">0</text>
<text x="390.40" y="480.50" font-size="8.80" fill="#333" font-family='"Liberation Sans", Arial, sans-serif' textLength="18.46" lengthAdjust="spacingAndGlyphs" text-anchor="middle">2000</text>
<text x="419.90" y="480.50" font-size="8.80" fill="#333" font-family='"Liberation Sans", Arial, sans-serif' textLength="18.46" lengthAdjust="spacingAndGlyphs" text-anchor="middle">4000</text>
<text x="449.00" y="480.50" font-size="8.80" fill="#333" font-family='"Liberation Sans", Arial, sans-serif' textLength="18.46" lengthAdjust="spacingAndGlyphs" text-anchor="middle">6000</text>
<text x="477.70" y="480.50" font-size="8.80" fill="#333" font-family='"Liberation Sans", Arial, sans-serif' textLength="18.46" lengthAdjust="spacingAndGlyphs" text-anchor="middle">8000</text>
<text x="510.00" y="480.50" font-size="8.80" fill="#333" font-family='"Liberation Sans", Arial, sans-serif' textLength="23.08" lengthAdjust="spacingAndGlyphs" text-anchor="middle">10000</text>
<text x="538.50" y="480.50" font-size="8.80" fill="#333" font-family='"Liberation Sans", Arial, sans-serif' textLength="23.08" lengthAdjust="spacingAndGlyphs" text-anchor="middle">12000</text>
<text x="572.30" y="480.50" font-size="8.80" fill="#333" font-family='"Liberation Sans", Arial, sans-serif' textLength="23.08" lengthAdjust="spacingAndGlyphs" text-anchor="middle">14000</text>
<text x="610.50" y="480.50" font-size="8.80" fill="#333" font-family='"Liberation Sans", Arial, sans-serif' textLength="23.08" lengthAdjust="spacingAndGlyphs" text-anchor="middle">16000</text>
<text x="413.00" y="500.60" font-size="12.80" fill="#262626" font-family='"Liberation Sans", Arial, sans-serif' stroke="#262626" stroke-width="0.12" textLength="140.00" lengthAdjust="spacingAndGlyphs">Número de Ciclos (Ciclos)</text>
<text x="0" y="0" transform="translate(333.60,437.50) rotate(-90)" font-size="12.80" fill="#262626" font-family='"Liberation Sans", Arial, sans-serif' stroke="#262626" stroke-width="0.12" textLength="76.90" lengthAdjust="spacingAndGlyphs">Capacidad (%)</text>
<text x="371.50" y="303.30" font-size="12.80" fill="#262626" font-family='"Liberation Sans", Arial, sans-serif' stroke="#262626" stroke-width="0.12" textLength="223.80" lengthAdjust="spacingAndGlyphs">Ciclos de vida con DOD (Prof.Descarga) a</text>
<text x="405.10" y="319.00" font-size="12.80" fill="#262626" font-family='"Liberation Sans", Arial, sans-serif' stroke="#262626" stroke-width="0.12" textLength="156.20" lengthAdjust="spacingAndGlyphs">25ºC 1C Descarga y 1C carga</text></svg>
</body></html>
